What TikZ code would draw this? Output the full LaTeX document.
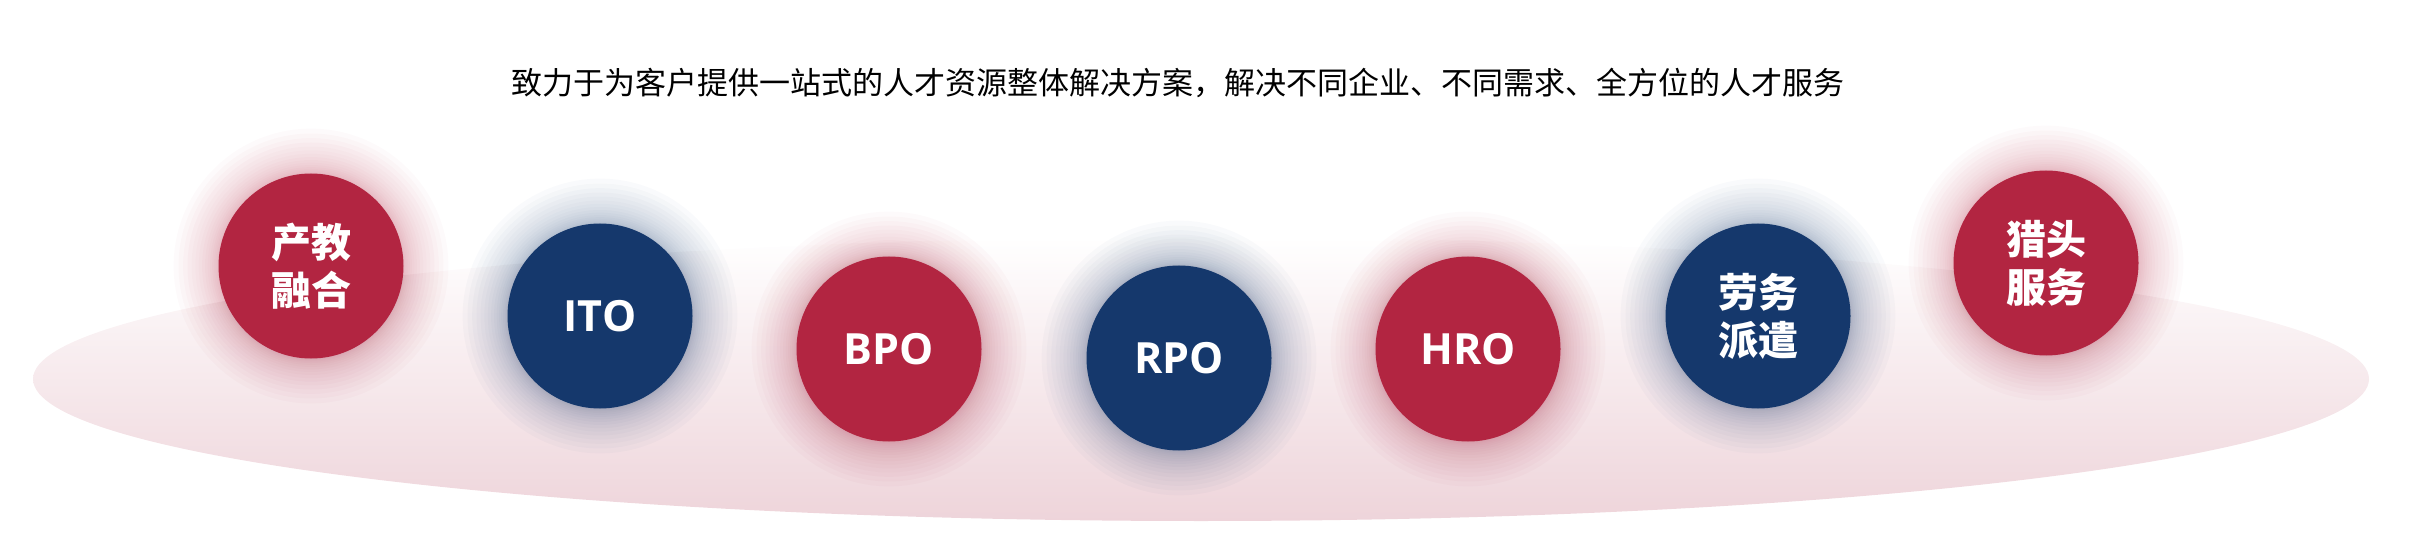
\documentclass[tikz,border=0pt]{standalone}
\usepackage{fontspec}
\setmainfont{Noto Sans CJK SC}
\newfontfamily\cjkfont{Noto Sans CJK SC}
\newfontfamily\latinfont{Open Sans}
\definecolor{bred}{RGB}{178,37,65}
\definecolor{bblue}{RGB}{21,56,108}
\definecolor{pinkbase}{RGB}{238,212,218}
\tikzset{
  ball/.style={circle,fill=#1,minimum size=185pt,inner sep=0pt,text=white,align=center},
  cjklabel/.style={font=\cjkfont\bfseries\fontsize{40}{48}\selectfont},
  latlabel/.style={font=\latinfont\bfseries\fontsize{43}{48}\selectfont},
}
\begin{document}
\begin{tikzpicture}[x=1pt,y=-1pt]
        \useasboundingbox (0,0) rectangle (2409,545);
        \shade[top color=white,bottom color=pinkbase](1201,379)ellipse(1168 and 142);

        \node[font=\cjkfont\fontsize{31}{36}\selectfont](title)at(1178,83){致力于为客户提供一站式的人才资源整体解决方案，解决不同企业、不同需求、全方位的人才服务};

        % soft glow round each ball
        \foreach \x/\y/\c in {311/266/bred,600/316/bblue,889/349/bred,1179/358/bblue,1468/349/bred,1758/316/bblue,2046/263/bred}
          \foreach \g in {1,...,18} \fill[\c,opacity=0.022] (\x,\y) circle (92+0.14*\g*\g);

        \node[ball=bred,cjklabel](chanjiao)at(311,266){产教\\融合};
        \node[ball=bblue,latlabel](ito)at(600,316){ITO};
        \node[ball=bred,latlabel](bpo)at(889,349){BPO};
        \node[ball=bblue,latlabel](rpo)at(1179,358){RPO};
        \node[ball=bred,latlabel](hro)at(1468,349){HRO};
        \node[ball=bblue,cjklabel](paiqian)at(1758,316){劳务\\派遣};
        \node[ball=bred,cjklabel](lietou)at(2046,263){猎头\\服务};
    \end{tikzpicture}
\end{document}
